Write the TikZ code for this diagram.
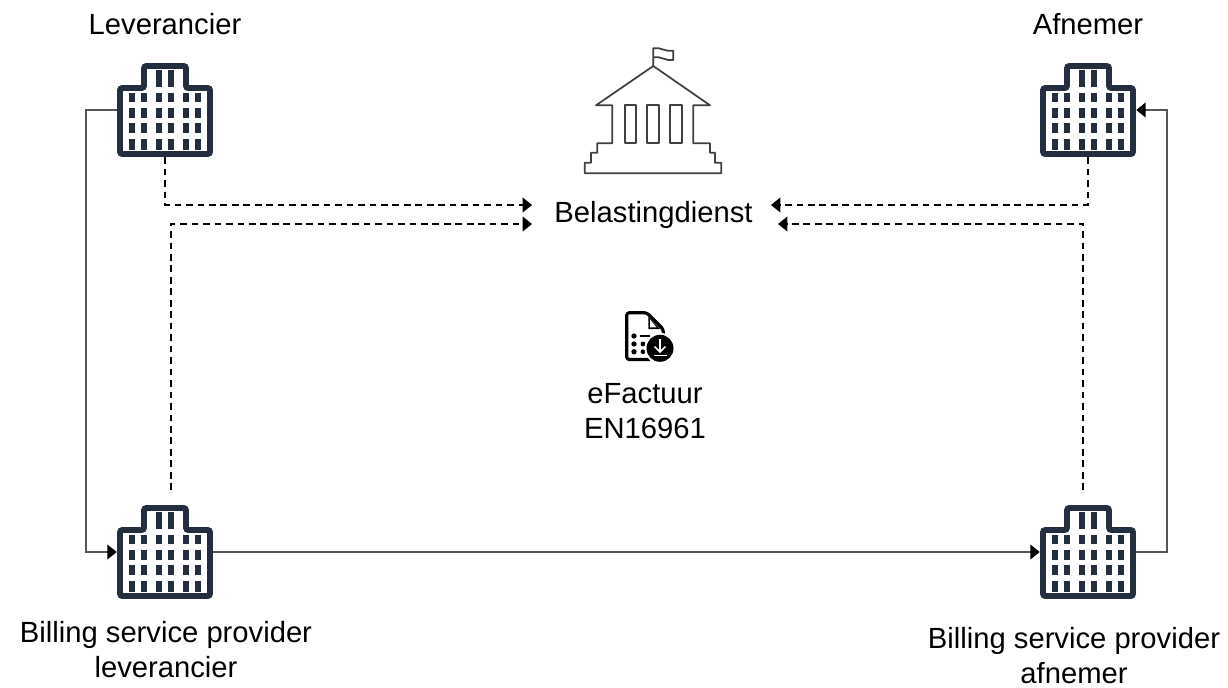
\documentclass[tikz,border=0pt]{standalone}
\usepackage{fontspec}
\setmainfont{Liberation Sans}
\usetikzlibrary{arrows.meta}
\definecolor{bldgcol}{HTML}{232F3E}
\definecolor{linecol}{HTML}{555555}
\tikzset{
  bldg/.style={inner sep=0pt,minimum width=72pt,minimum height=70.5pt},
  bldgicon/.pic={
    \draw [bldgcol,line width=4.2pt,rounded corners=1.5pt,fill=white] (-45,-22) -- (-21,-22) -- (-21,-44) -- (21,-44) -- (21,-22) -- (45,-22) -- (45,44) -- (-45,44) -- cycle;
    \foreach \xa in {-36,-24,-9,3,18,30}
      \foreach \ya/\yb in {-17/-8,-2/8,13/23,29/40}
        \fill [bldgcol] (\xa,\ya) rectangle (\xa+6,\yb);
    \fill [bldgcol] (-9,-40) rectangle (-3,-23);
    \fill [bldgcol] (3,-40) rectangle (9,-23);
  },
  lbl/.style={font=\fontsize{21.9}{26.25}\selectfont,align=center,inner sep=0pt},
  solidline/.style={linecol,line width=1.3pt,-{Triangle[length=7pt,width=11pt,color=black]}},
  dashline/.style={black,line width=1.1pt,dash pattern=on 5pt off 3.6pt,-{Triangle[length=7pt,width=11pt]}},
  bankline/.style={black!75,line width=1.3pt,line join=round},
  docline/.style={black,line width=2.4pt,line join=round},
}
\begin{document}
\begin{tikzpicture}[x=0.75pt,y=-0.75pt]
\useasboundingbox (0,0) rectangle (1228,687);
\node [bldg] (lev) at (165,110) {};
\node [bldg] (afn) at (1088,110) {};
\node [bldg] (bspl) at (165,552) {};
\node [bldg] (bspa) at (1088,552) {};
\node [lbl] (levtxt) at (165,24) {Leverancier};
\node [lbl] (afntxt) at (1088,24) {Afnemer};
\node [lbl] (bspltxt) at (166,650) {Billing service provider\\leverancier};
\node [lbl] (bspatxt) at (1074,655.5) {Billing service provider\\afnemer};
\node [lbl] (beltxt) at (653.5,215) {Belastingdienst};
\node [lbl] (factxt) at (645,411.5) {eFactuur\\EN16961};
\coordinate (belin1) at (532,205);
\coordinate (belin2) at (532,224);
\coordinate (belin3) at (771,205);
\coordinate (belin4) at (778,224);
\coordinate (bsplup) at (171,490);
\coordinate (bspaup) at (1083,490);
% connectors
\draw [solidline] (lev.west) -- ++(-31,0) |- (bspl.west);
\draw [solidline] (bspl.east) -- (bspa.west);
\draw [solidline] (bspa.east) -- ++(31,0) |- (afn.east);
\draw [dashline] (lev.south) |- (belin1);
\draw [dashline] (bsplup) |- (belin2);
\draw [dashline] (afn.south) |- (belin3);
\draw [dashline] (bspaup) |- (belin4);
% buildings
\foreach \bname in {lev,afn,bspl,bspa}
  \pic at (\bname) {bldgicon};
% tax office
\draw [bankline] (653.3,66) -- (710,105.3) -- (693.3,105.3) -- (693.3,143.3) -- (710,143.3) -- (710,152.7) -- (715,152.7) -- (715,162.7) -- (721.3,162.7) -- (721.3,173.3) -- (584.7,173.3) -- (584.7,162.7) -- (591,162.7) -- (591,152.7) -- (597.3,152.7) -- (597.3,143.3) -- (612.3,143.3) -- (612.3,105.3) -- (596,105.3) -- cycle;
\draw [bankline] (624.7,105.3) rectangle (636,143.3);
\draw [bankline] (647,105.3) rectangle (659,143.3);
\draw [bankline] (670,105.3) rectangle (682,143.3);
\draw [bankline] (653.3,66) -- (653.3,48.3) .. controls (660,46.5) and (666,52.5) .. (673.3,50.7) -- (673.3,60) .. controls (666,61.5) and (660,55.5) .. (653.3,57.3);
% invoice icon
\draw [docline,rounded corners=2pt] (663.3,335) -- (663.3,329.3) -- (646.7,312.7) -- (626.7,312.7) -- (626.7,359.5) -- (650,359.5);
\fill [black] (648.3,317) -- (648.3,329) -- (660,329) -- cycle;
\fill [white] (650,319.5) -- (650,327.3) -- (656.5,327.3) -- cycle;
\fill [black] (634,336) circle (2pt);
\fill [black] (634,344) circle (2pt);
\fill [black] (634,351.7) circle (2pt);
\fill [black] (643,344) circle (1.8pt);
\fill [black] (643,351.7) circle (1.8pt);
\fill [black] (640,334.5) rectangle (650,337);
\fill [white] (660,348.3) circle (15.5);
\fill [black] (660,348.3) circle (13.5);
\draw [white,line width=1.3pt] (660,338.5) -- (660,352);
\draw [white,line width=1.3pt] (654.5,346.5) -- (660,352) -- (665.5,346.5);
\draw [white,line width=1.3pt] (653.5,355.5) -- (666.5,355.5);
\end{tikzpicture}
\end{document}
